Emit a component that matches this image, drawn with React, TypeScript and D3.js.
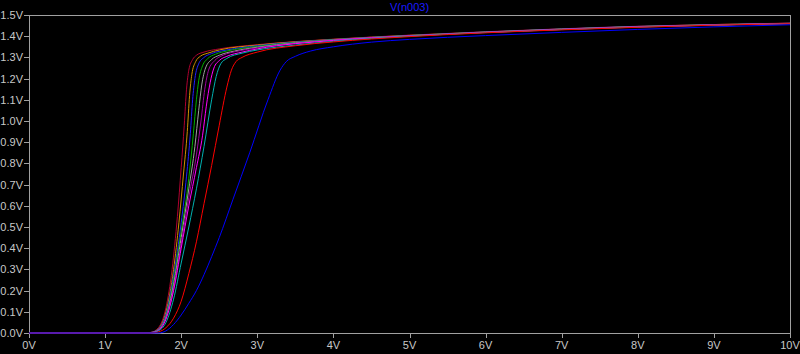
import React from "react";
import * as d3 from "d3";

const W = 800;
const H = 354;
const M = { left: 29, right: 10, top: 15, bottom: 21 };

const title = "V(n003)";
const xTicks = [0, 1, 2, 3, 4, 5, 6, 7, 8, 9, 10];
const yTicks = [0, 0.1, 0.2, 0.3, 0.4, 0.5, 0.6, 0.7, 0.8, 0.9, 1.0, 1.1, 1.2, 1.3, 1.4, 1.5];

const colors = ["#b00030", "#d09000", "#2020ff", "#00b000", "#a0a0a0", "#a000a0", "#ff00ff", "#00b0b0", "#ff0000", "#0000ff"];

const c1: [number, number][] = [[0,0],[1.5,0],[1.6,0.003],[1.7,0.025],[1.8,0.12],[1.88,0.3],[1.95,0.55],[2.0,0.78],[2.04,0.98],[2.07,1.15],[2.1,1.24],[2.15,1.29],[2.2,1.31],[2.3,1.325],[2.5,1.34],[3,1.36],[4,1.386],[5,1.405],[6,1.421],[7,1.435],[8,1.447],[9,1.455],[10,1.462]];
const c2: [number, number][] = [[0,0],[1.5,0],[1.6,0.002],[1.7,0.02],[1.8,0.1],[1.9,0.3],[1.97,0.52],[2.03,0.75],[2.08,0.95],[2.11,1.12],[2.14,1.22],[2.19,1.28],[2.25,1.305],[2.35,1.32],[2.5,1.335],[3,1.358],[4,1.385],[5,1.404],[6,1.42],[7,1.434],[8,1.446],[9,1.455],[10,1.461]];
const c3: [number, number][] = [[0,0],[1.5,0],[1.6,0.002],[1.7,0.018],[1.8,0.09],[1.9,0.27],[2.0,0.52],[2.07,0.74],[2.12,0.94],[2.15,1.1],[2.18,1.2],[2.23,1.27],[2.3,1.3],[2.4,1.318],[2.6,1.335],[3,1.355],[4,1.384],[5,1.403],[6,1.42],[7,1.434],[8,1.446],[9,1.454],[10,1.461]];
const c4: [number, number][] = [[0,0],[1.5,0],[1.6,0.002],[1.7,0.016],[1.8,0.08],[1.9,0.25],[2.0,0.48],[2.1,0.73],[2.16,0.94],[2.2,1.1],[2.23,1.19],[2.28,1.26],[2.35,1.295],[2.45,1.315],[2.6,1.33],[3,1.352],[4,1.383],[5,1.403],[6,1.419],[7,1.433],[8,1.445],[9,1.454],[10,1.46]];
const c5: [number, number][] = [[0,0],[1.5,0],[1.6,0.002],[1.7,0.015],[1.8,0.075],[1.9,0.23],[2.0,0.45],[2.1,0.68],[2.18,0.88],[2.23,1.05],[2.27,1.17],[2.32,1.25],[2.4,1.29],[2.5,1.31],[2.7,1.33],[3,1.348],[4,1.382],[5,1.402],[6,1.419],[7,1.433],[8,1.445],[9,1.453],[10,1.46]];
const c6: [number, number][] = [[0,0],[1.5,0],[1.6,0.002],[1.7,0.014],[1.8,0.07],[1.9,0.21],[2.0,0.42],[2.1,0.64],[2.2,0.84],[2.26,1.0],[2.31,1.15],[2.36,1.24],[2.44,1.285],[2.55,1.31],[2.75,1.33],[3,1.345],[4,1.381],[5,1.402],[6,1.418],[7,1.432],[8,1.444],[9,1.453],[10,1.46]];
const c7: [number, number][] = [[0,0],[1.5,0],[1.6,0.001],[1.7,0.012],[1.8,0.065],[1.9,0.2],[2.0,0.4],[2.1,0.6],[2.2,0.78],[2.28,0.93],[2.33,1.07],[2.38,1.18],[2.43,1.25],[2.5,1.285],[2.6,1.305],[2.8,1.325],[3,1.34],[4,1.38],[5,1.401],[6,1.418],[7,1.432],[8,1.444],[9,1.453],[10,1.46]];
const c8: [number, number][] = [[0,0],[1.5,0],[1.6,0.001],[1.7,0.01],[1.8,0.05],[1.9,0.16],[2.0,0.33],[2.1,0.5],[2.2,0.68],[2.3,0.88],[2.4,1.1],[2.46,1.21],[2.52,1.27],[2.6,1.295],[2.8,1.32],[3,1.335],[3.5,1.358],[4,1.376],[5,1.4],[6,1.417],[7,1.431],[8,1.443],[9,1.452],[10,1.459]];
const c9: [number, number][] = [[0,0],[1.6,0],[1.7,0.005],[1.8,0.025],[1.9,0.07],[2.0,0.15],[2.1,0.28],[2.2,0.43],[2.3,0.61],[2.4,0.79],[2.5,0.98],[2.6,1.16],[2.66,1.24],[2.72,1.28],[2.8,1.3],[3.0,1.325],[3.5,1.355],[4,1.373],[5,1.398],[6,1.416],[7,1.43],[8,1.442],[9,1.452],[10,1.459]];
const c10: [number, number][] = [[0,0],[1.7,0],[1.8,0.01],[1.9,0.04],[2.0,0.085],[2.1,0.14],[2.2,0.2],[2.3,0.275],[2.4,0.36],[2.5,0.45],[2.68,0.63],[2.9,0.85],[3.14,1.1],[3.3,1.24],[3.38,1.28],[3.5,1.305],[3.7,1.33],[4,1.35],[4.5,1.372],[5,1.385],[6,1.403],[7,1.418],[8,1.432],[9,1.444],[10,1.454]];

const series = [c1, c2, c3, c4, c5, c6, c7, c8, c9, c10];

export default function App() {
  const x = d3.scaleLinear().domain([0, 10]).range([M.left, W - M.right]);
  const y = d3.scaleLinear().domain([0, 1.5]).range([H - M.bottom, M.top]);
  const line = d3
    .line<[number, number]>()
    .x((d) => x(d[0]))
    .y((d) => y(d[1]))
    .curve(d3.curveMonotoneX);
  const axisColor = "#a0a0a0";
  const textColor = "#c8c8c8";
  const font = "'Liberation Sans', Arial, sans-serif";
  const x0 = M.left;
  const x1 = W - M.right;
  const y0 = H - M.bottom;
  const y1 = M.top;
  return (
    <div style={{ position: "fixed", left: 0, top: 0, width: W, height: H, background: "#000" }}>
      <svg width={W} height={H} style={{ display: "block", background: "#000" }}>
        <rect x={0} y={0} width={W} height={H} fill="#000" />
        <defs>
          <clipPath id="clip">
            <rect x={x0} y={y1} width={x1 - x0} height={y0 - y1 + 1} />
          </clipPath>
        </defs>
        <text x={(x0 + x1) / 2} y={11} fill="#1a1aff" fontFamily={font} fontSize={11} textAnchor="middle">
          {title}
        </text>
        <g shapeRendering="crispEdges" stroke={axisColor} strokeWidth={1}>
          <line x1={x0 + 0.5} y1={y1} x2={x0 + 0.5} y2={y0 + 1} />
          <line x1={x1 + 0.5} y1={y1} x2={x1 + 0.5} y2={y0 + 1} />
          <line x1={x0} y1={y1 + 0.5} x2={x1 + 1} y2={y1 + 0.5} />
          <line x1={x0} y1={y0 + 0.5} x2={x1 + 1} y2={y0 + 0.5} />
          {xTicks.map((t) => (
            <line key={"xt" + t} x1={Math.round(x(t)) + 0.5} x2={Math.round(x(t)) + 0.5} y1={y0} y2={y0 + 5} />
          ))}
          {yTicks.map((t) => (
            <line key={"yt" + t} x1={x0 - 5} x2={x0} y1={Math.round(y(t)) + 0.5} y2={Math.round(y(t)) + 0.5} />
          ))}
        </g>
        <g clipPath="url(#clip)">
          {series.map((s, i) => (
            <path key={i} d={line(s) || ""} fill="none" stroke={colors[i]} strokeWidth={1} />
          ))}
        </g>
        {xTicks.map((t) => (
          <text key={"xl" + t} x={x(t)} y={y0 + 16} fill={textColor} fontFamily={font} fontSize={11} textAnchor="middle">
            {t + "V"}
          </text>
        ))}
        {yTicks.map((t) => (
          <text key={"yl" + t} x={x0 - 6} y={y(t) + 4} fill={textColor} fontFamily={font} fontSize={11} textAnchor="end">
            {t.toFixed(1) + "V"}
          </text>
        ))}
      </svg>
    </div>
  );
}
